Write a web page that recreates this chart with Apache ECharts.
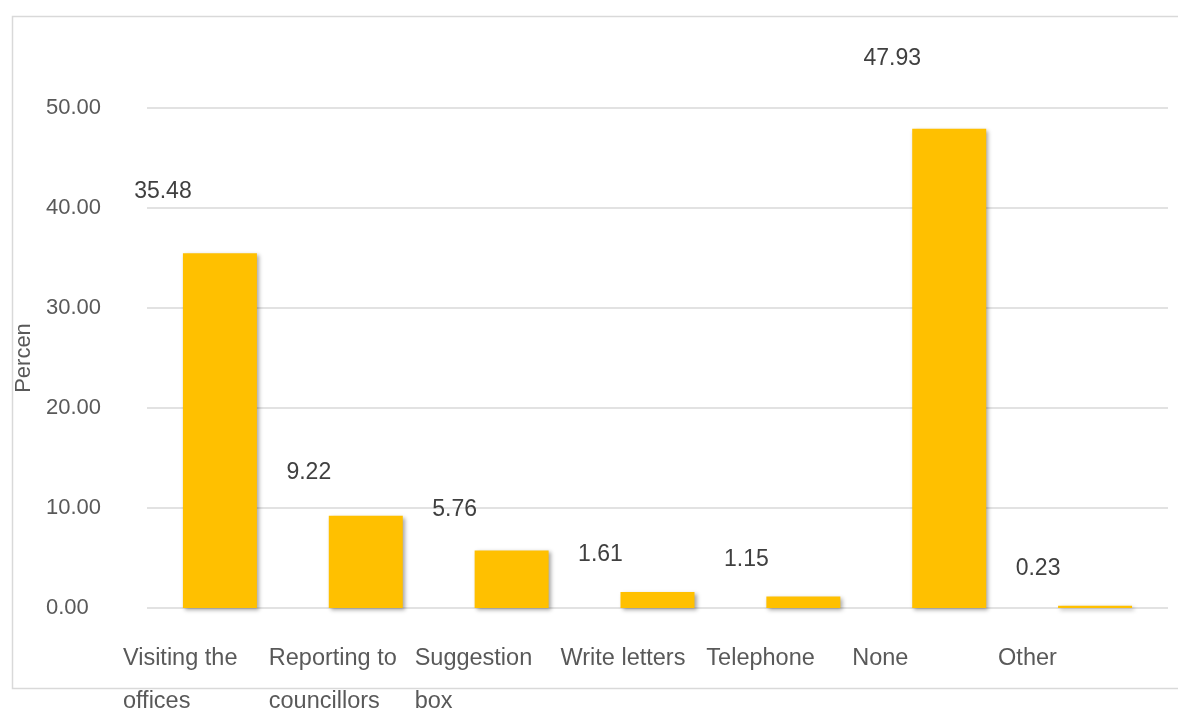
<!DOCTYPE html>
<html>
<head>
<meta charset="utf-8">
<script src="https://cdn.jsdelivr.net/npm/echarts@6/dist/echarts.min.js"></script>
<style>
  html, body { margin: 0; padding: 0; background: #ffffff; }
  #chart { width: 1178px; height: 711px; }
</style>
</head>
<body>
<div id="chart"></div>
<script>
// Ways of raising complaints, share of respondents (%)
const categories = [
  'Visiting the\noffices',
  'Reporting to\ncouncillors',
  'Suggestion\nbox',
  'Write letters',
  'Telephone',
  'None',
  'Other'
];
const percentages = [35.48, 9.22, 5.76, 1.61, 1.15, 47.93, 0.23];
const axisTitle = 'Percen';
const yMin = 0;
const yMax = 50;
const yStep = 10;

const textColor = '#595959';
const fontFamily = '"Liberation Sans", Arial, sans-serif';

const chart = echarts.init(document.getElementById('chart'));

chart.setOption({
  backgroundColor: '#ffffff',
  animation: false,
  graphic: [{
    type: 'rect',
    left: 10, top: 14,
    shape: { width: 1180, height: 672 },
    style: { fill: 'none', stroke: '#d9d9d9', lineWidth: 1.5 },
    silent: true,
    z: -1
  }],
  grid: {
    left: 147, right: 10, top: 108, bottom: 103,
    outerBoundsMode: 'none',
    containLabel: false
  },
  xAxis: {
    type: 'category',
    data: categories,
    axisLine: { show: false },
    axisTick: { show: false },
    axisLabel: {
      interval: 0,
      margin: 29,
      align: 'center',
      formatter: v => v.split('\n').map(s => '{c|' + s + '}').join('\n'),
      rich: {
        c: {
          width: 194,
          align: 'left',
          lineHeight: 43,
          fontSize: 23.5,
          color: textColor,
          fontFamily: fontFamily
        }
      }
    }
  },
  yAxis: {
    type: 'value',
    min: yMin,
    max: yMax,
    interval: yStep,
    name: axisTitle,
    nameLocation: 'middle',
    nameGap: 111,
    nameRotate: 90,
    nameTextStyle: { fontSize: 22, color: textColor, fontFamily: fontFamily },
    axisLine: { show: false },
    axisTick: { show: false },
    axisLabel: {
      align: 'left',
      margin: 101,
      fontSize: 22,
      color: textColor,
      fontFamily: fontFamily,
      formatter: v => v.toFixed(2)
    },
    splitLine: { lineStyle: { color: '#d9d9d9', width: 1.5 } }
  },
  series: [{
    type: 'bar',
    barWidth: 74,
    data: percentages.map(v => ({
      value: v,
      label: { offset: [-57, -(20 + 0.7 * v)] }
    })),
    itemStyle: {
      color: '#ffc000',
      shadowColor: 'rgba(0,0,0,0.35)',
      shadowBlur: 4,
      shadowOffsetX: 2,
      shadowOffsetY: 2
    },
    label: {
      show: true,
      position: 'top',
      distance: 5,
      fontSize: 23,
      color: '#404040',
      fontFamily: fontFamily,
      formatter: p => p.value.toFixed(2)
    }
  }]
});
</script>
</body>
</html>
